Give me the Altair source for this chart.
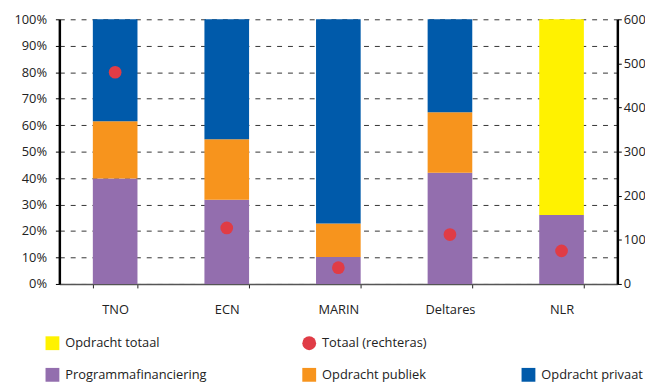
import altair as alt
import pandas as pd

orgs = ["TNO", "ECN", "MARIN", "Deltares", "NLR"]
programma = [39.8, 31.8, 10.2, 42.0, 26.1]
publiek = [21.7, 22.9, 12.6, 22.9, 0.0]
privaat = [38.5, 45.3, 77.2, 35.1, 0.0]
opdracht_totaal = [0.0, 0.0, 0.0, 0.0, 73.9]
totaal_rechteras = [480, 127, 37, 112, 75]

series_names = ["Programmafinanciering", "Opdracht publiek", "Opdracht privaat", "Opdracht totaal"]
legend_domain = ["Opdracht totaal", "Programmafinanciering",
                 "Totaal (rechteras)", "Opdracht publiek",
                 " ", "Opdracht privaat"]
legend_colors = ["#FFF200", "#936EAE", "#E03C46", "#F7941D", "transparent", "#005AAA"]
legend_shapes = ["square", "square", "circle", "square", "square", "square"]
pct_ticks = [0, 0.1, 0.2, 0.3, 0.4, 0.5, 0.6, 0.7, 0.8, 0.9, 1.0]
right_ticks = [0, 100, 200, 300, 400, 500, 600]

rows = []
for i, org in enumerate(orgs):
    for k, (name, vals) in enumerate(zip(series_names, [programma, publiek, privaat, opdracht_totaal])):
        if vals[i] > 0:
            rows.append({"org": org, "series": name, "value": vals[i], "order": k})
bars_df = pd.DataFrame(rows)
pts_df = pd.DataFrame({"org": orgs, "total": totaal_rechteras,
                       "series": ["Totaal (rechteras)"] * len(orgs)})

FONT = "Open Sans"

legend = alt.Legend(
    orient="none", legendX=-14, legendY=321, columns=3, title=None,
    symbolSize=196, labelFontSize=13, labelFont=FONT, labelColor="#222",
    columnPadding=96, rowPadding=18, symbolStrokeWidth=0, labelLimit=300,
    labelOffset=6, padding=0,
)

color_scale = alt.Scale(domain=legend_domain, range=legend_colors)
shape_scale = alt.Scale(domain=legend_domain, range=legend_shapes)

x_enc = alt.X(
    "org:N", sort=orgs, title=None,
    scale=alt.Scale(paddingInner=0.6, paddingOuter=0.3),
    axis=alt.Axis(labelAngle=0, domainColor="#555", domainWidth=1.5,
                  tickBand="extent", tickColor="#222", tickSize=4,
                  labelPadding=16, labelFontSize=13, labelFont=FONT,
                  labelColor="#222"),
)

bars = alt.Chart(bars_df).mark_bar().encode(
    x=x_enc,
    y=alt.Y("value:Q", stack="normalize", title=None,
            scale=alt.Scale(domain=[0, 1]),
            axis=alt.Axis(format=".0%", values=pct_ticks, orient="left",
                          domainColor="#000", domainWidth=2.5,
                          tickColor="#000", tickSize=4, labelPadding=9,
                          labelFontSize=13, labelFont=FONT, labelColor="#222",
                          grid=True, gridDash=[5, 6], gridColor="#333",
                          gridWidth=1)),
    color=alt.Color("series:N", scale=color_scale, legend=legend),
    order=alt.Order("order:Q"),
)

points = alt.Chart(pts_df).mark_point(filled=True, size=165, opacity=1).encode(
    x=alt.X("org:N", sort=orgs),
    y=alt.Y("total:Q", title=None, scale=alt.Scale(domain=[0, 600]),
            axis=alt.Axis(orient="right", values=right_ticks,
                          domainColor="#000", domainWidth=2.5,
                          tickColor="#000", tickSize=4, labelPadding=2,
                          labelFontSize=13, labelFont=FONT, labelColor="#222",
                          grid=False)),
    color=alt.Color("series:N", scale=color_scale, legend=legend),
    shape=alt.Shape("series:N", scale=shape_scale, legend=legend),
)

chart = alt.layer(bars, points).resolve_scale(y="independent").properties(
    width=565, height=268,
    autosize=alt.AutoSizeParams(type="none"),
    padding={"left": 52, "top": 9, "right": 28, "bottom": 110},
).configure_view(stroke=None)

chart.save("out.html", embed_options={"renderer": "svg", "actions": False})
